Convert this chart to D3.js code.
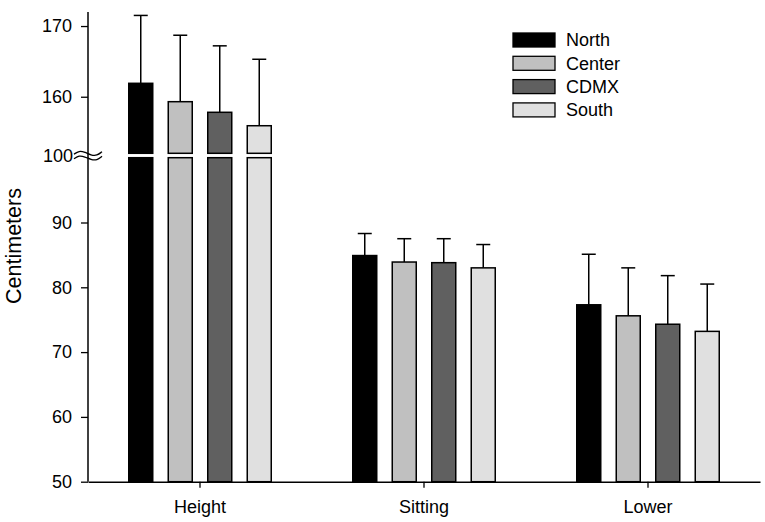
<!DOCTYPE html>
<html>
<head>
<meta charset="utf-8">
<script src="https://cdn.jsdelivr.net/npm/d3@7"></script>
<style>
  html, body { margin: 0; padding: 0; background: #fff; }
  svg { display: block; font-family: "Liberation Sans", Arial, sans-serif; }
</style>
</head>
<body>
<svg id="chart" width="765" height="522"></svg>
<script>
// ---- data ----
const categories = ["Height", "Sitting", "Lower"];
const seriesNames = ["North", "Center", "CDMX", "South"];
const seriesColors = ["#000000", "#c0c0c0", "#606060", "#e0e0e0"];
const northMeans = [161.9, 84.9, 77.3];
const centerMeans = [159.3, 83.9, 75.6];
const cdmxMeans = [157.8, 83.8, 74.3];
const southMeans = [155.9, 83.0, 73.2];
const northErr = [9.6, 3.4, 7.8];
const centerErr = [9.4, 3.6, 7.4];
const cdmxErr = [9.4, 3.7, 7.5];
const southErr = [9.4, 3.6, 7.3];
const lowerTicks = [50, 60, 70, 80, 90];
const upperTicks = [160, 170];
const breakValue = 100;
const yLabel = "Centimeters";

const means = [northMeans, centerMeans, cdmxMeans, southMeans];
const errs = [northErr, centerErr, cdmxErr, southErr];
const rows = [];
categories.forEach((c, ci) => {
  seriesNames.forEach((s, si) => {
    rows.push({cat: c, series: s, color: seriesColors[si], mean: means[si][ci], err: errs[si][ci]});
  });
});

const svg = d3.select("#chart");
const left = 88, right = 760, bottom = 481.7;

const x0 = d3.scaleBand().domain(categories).range([left, right]).padding(0);
const x1 = d3.scaleBand().domain(seriesNames).range([-79, 79]).padding(0);
const barW = 24;

const yLower = d3.scaleLinear().domain([50, 100]).range([bottom, 157.7]);
const yUpper = d3.scaleLinear().domain([152, 172]).range([153.3, 11.9]);
const yVal = v => v > breakValue ? yUpper(v) : yLower(v);

const g = svg.append("g");

// bars
const barX = d => x0(d.cat) + x0.bandwidth() / 2 + x1(d.series) + (x1.bandwidth() - barW) / 2;

rows.forEach(d => {
  const bx = barX(d);
  const segs = [];
  if (d.mean > breakValue) {
    segs.push([yLower(breakValue), yLower(50)]);
    segs.push([yUpper(d.mean), yUpper(152)]);
  } else {
    segs.push([yLower(d.mean), yLower(50)]);
  }
  segs.forEach(([top, bot]) => {
    g.append("rect")
      .attr("x", bx).attr("y", top)
      .attr("width", barW).attr("height", bot - top)
      .attr("fill", d.color).attr("stroke", "#000").attr("stroke-width", 1.5);
  });
  // error bar (upper only)
  const cx = bx + barW / 2;
  const yTop = yVal(d.mean + d.err);
  const yBar = yVal(d.mean);
  g.append("line").attr("x1", cx).attr("x2", cx).attr("y1", yBar).attr("y2", yTop)
    .attr("stroke", "#000").attr("stroke-width", 1.5);
  g.append("line").attr("x1", cx - 7).attr("x2", cx + 7).attr("y1", yTop).attr("y2", yTop)
    .attr("stroke", "#000").attr("stroke-width", 1.5);
});

// y axes
const styleAxis = sel => {
  sel.selectAll("text").attr("font-size", 18).attr("fill", "#000")
    .attr("font-family", "'Liberation Sans', Arial, sans-serif");
  sel.selectAll("line").attr("stroke", "#000").attr("stroke-width", 1.3);
  sel.select(".domain").remove();
};
g.append("g").attr("transform", `translate(${left},0)`)
  .call(d3.axisLeft(yLower).tickValues(lowerTicks).tickSize(7).tickPadding(9))
  .call(styleAxis);
g.append("g").attr("transform", `translate(${left},0)`)
  .call(d3.axisLeft(yUpper).tickValues(upperTicks).tickSize(7).tickPadding(9))
  .call(styleAxis);

// continuous y axis line
g.append("line").attr("x1", left).attr("x2", left).attr("y1", yUpper(172)).attr("y2", bottom)
  .attr("stroke", "#000").attr("stroke-width", 1.5);

// break marker and label
const yb = (yUpper(152) + yLower(breakValue)) / 2;
g.append("text").attr("x", left - 15).attr("y", yb).attr("dy", "0.35em")
  .attr("text-anchor", "end").attr("font-size", 18).text(String(breakValue));
const wave = d3.line().curve(d3.curveBasis);
[-2.3, 2.3].forEach(off => {
  const y = yb + off;
  const pts = [[left - 14, y + 1], [left - 9, y - 2.5], [left - 3, y - 1], [left + 3, y + 2], [left + 9, y + 2.5], [left + 14, y - 1.5]];
  g.append("path").attr("d", wave(pts)).attr("fill", "none").attr("stroke", "#000").attr("stroke-width", 1.3);
});

// x axis
const xAxis = g.append("g").attr("transform", `translate(0,${bottom})`)
  .call(d3.axisBottom(x0).tickSize(6).tickSizeOuter(0).tickPadding(13));
xAxis.select(".domain").attr("stroke", "#000").attr("stroke-width", 1.5);
xAxis.selectAll("line").attr("stroke", "#000").attr("stroke-width", 1.3);
xAxis.selectAll("text").attr("font-size", 18).attr("fill", "#000")
  .attr("font-family", "'Liberation Sans', Arial, sans-serif");

// y label
svg.append("text")
  .attr("transform", `translate(20.5,${246}) rotate(-90)`)
  .attr("text-anchor", "middle").attr("font-size", 21.5).text(yLabel);

// legend
const legend = svg.append("g").attr("transform", "translate(513,33)");
seriesNames.forEach((s, i) => {
  const row = legend.append("g").attr("transform", `translate(0,${i * 23.3})`);
  row.append("rect").attr("width", 42).attr("height", 14)
    .attr("fill", seriesColors[i]).attr("stroke", "#000").attr("stroke-width", 1.3);
  row.append("text").attr("x", 53).attr("y", 7).attr("dy", "0.36em")
    .attr("font-size", 18).text(s);
});
</script>
</body>
</html>
